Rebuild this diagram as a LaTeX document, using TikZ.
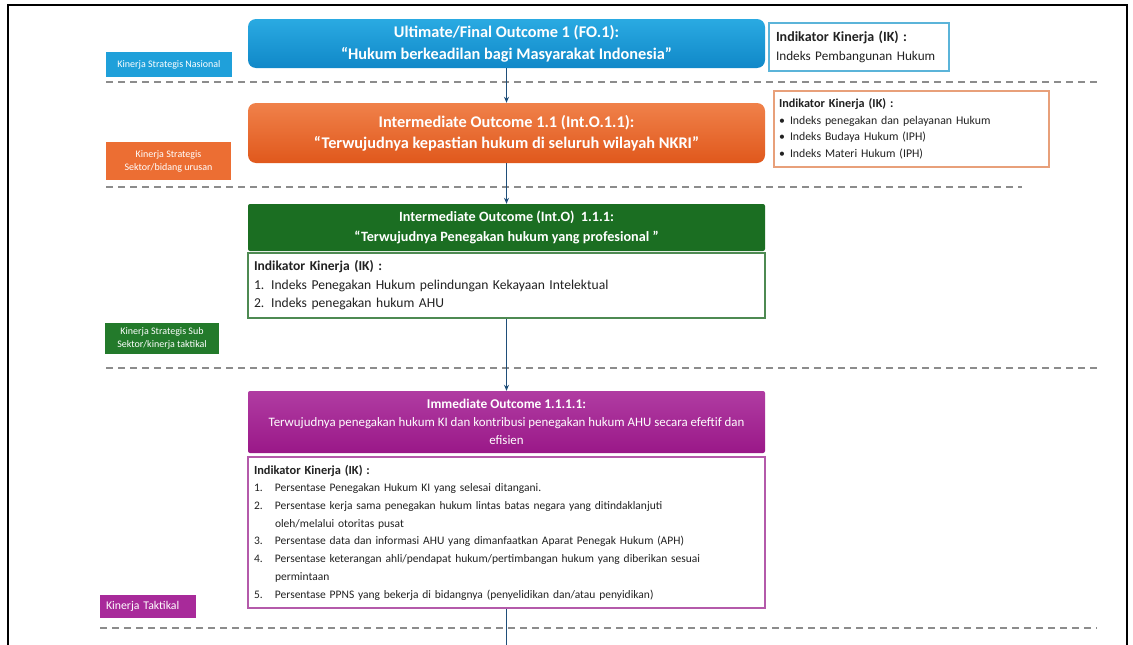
\documentclass[tikz,border=0pt]{standalone}
\usepackage{fontspec}
\setmainfont{Carlito}
\usetikzlibrary{arrows.meta}
\definecolor{bluetop}{HTML}{2AAAE2}
\definecolor{bluebot}{HTML}{1088C8}
\definecolor{orgtop}{HTML}{F0814A}
\definecolor{orgbot}{HTML}{E0581C}
\definecolor{grn}{HTML}{1B6E22}
\definecolor{purtop}{HTML}{B03CA2}
\definecolor{purbot}{HTML}{9A1888}
\definecolor{lblblue}{HTML}{1FA0DA}
\definecolor{lblorg}{HTML}{EC6E33}
\definecolor{lblgrn}{HTML}{237A2B}
\definecolor{lblpur}{HTML}{A82A9A}
\definecolor{ikblue}{HTML}{5BB4D9}
\definecolor{ikorg}{HTML}{E8A07A}
\definecolor{ikgrn}{HTML}{4E8A52}
\definecolor{ikpur}{HTML}{B45AAA}
\definecolor{conn}{HTML}{1F4E79}
\definecolor{dashgray}{HTML}{8C8C8C}
\definecolor{txt}{HTML}{222222}
\begin{document}
\begin{tikzpicture}[x=1pt,y=-1pt,
  hdr/.style={minimum width=517pt, inner sep=0pt, text=white, align=center},
  ikbox/.style={draw, line width=1.3pt, fill=white, inner ysep=0pt, align=left, text=txt},
  lbl/.style={inner sep=0pt, text=white, align=center, font=\fontsize{10}{13}\selectfont},
  sep/.style={dashgray, line width=2pt, dash pattern=on 7pt off 5pt},
  link/.style={conn, line width=1.5pt, -{Stealth[length=6pt,width=5pt]}},
  tail/.style={conn, line width=1.5pt}
]
\fill[white] (0,0) rectangle (1133,645);
\useasboundingbox (0,0) rectangle (1133,645);
% frame
\draw[line width=2pt, black] (8,660) -- (8,5) -- (1127,5) -- (1127,660);

% separators
\draw[sep] (106,82) -- (1097,82);
\draw[sep] (106,187) -- (1022,187);
\draw[sep] (106,368) -- (1097,368);
\draw[sep] (100,628) -- (1097,628);

% level 1
\node[hdr, rounded corners=8pt, top color=bluetop, bottom color=bluebot, minimum height=49pt,
  font=\fontsize{16.3}{22}\selectfont\bfseries] (fo) at (506.5,43.5)
  {Ultimate/Final Outcome 1 (FO.1):\\“Hukum berkeadilan bagi Masyarakat Indonesia”};
\node[lbl, fill=lblblue, minimum width=126pt, minimum height=25pt] (l1) at (169,64.5) {Kinerja Strategis Nasional};
\node[ikbox, draw=ikblue, minimum width=180pt, minimum height=48pt, text width=166pt, inner xsep=7pt,
  font=\fontsize{13.2}{19}\selectfont] (ik1) at (859,47)
  {{\bfseries\fontsize{14}{19}\selectfont Indikator Kinerja (IK) :}\\Indeks Pembangunan Hukum};

% level 2
\node[hdr, rounded corners=8pt, top color=orgtop, bottom color=orgbot, minimum height=60pt,
  font=\fontsize{16.3}{21}\selectfont\bfseries] (io) at (506.5,133)
  {Intermediate Outcome 1.1 (Int.O.1.1):\\“Terwujudnya kepastian hukum di seluruh wilayah NKRI”};
\node[lbl, fill=lblorg, minimum width=125pt, minimum height=38pt] (l2) at (168.5,161)
  {Kinerja Strategis\\Sektor/bidang urusan};
\node[ikbox, draw=ikorg, minimum width=275pt, minimum height=76pt, text width=265pt, inner xsep=5pt,
  font=\fontsize{11.8}{16.5}\selectfont] (ik2) at (911.5,129)
  {{\bfseries\fontsize{12.2}{16.5}\selectfont Indikator Kinerja (IK) :}\\
   \makebox[11pt][l]{\textbullet}Indeks penegakan dan pelayanan Hukum\\
   \makebox[11pt][l]{\textbullet}Indeks Budaya Hukum (IPH)\\
   \makebox[11pt][l]{\textbullet}Indeks Materi Hukum (IPH)};

% level 3
\node[hdr, rounded corners=2pt, fill=grn, minimum height=47pt,
  font=\fontsize{14.2}{20}\selectfont\bfseries] (g) at (506.5,227.5)
  {Intermediate Outcome (Int.O)\ \ 1.1.1:\\“Terwujudnya Penegakan hukum yang profesional ”};
\node[ikbox, draw=ikgrn, minimum width=517pt, minimum height=65pt, text width=505pt, inner xsep=6pt,
  font=\fontsize{13.6}{18.5}\selectfont] (gik) at (506.5,285.5)
  {\textbf{Indikator Kinerja (IK) :}\\
   1. Indeks Penegakan Hukum pelindungan Kekayaan Intelektual\\
   2. Indeks penegakan hukum AHU};
\node[lbl, fill=lblgrn, minimum width=114pt, minimum height=31pt] (l3) at (162,338.5)
  {Kinerja Strategis Sub\\Sektor/kinerja taktikal};

% level 4
\node[hdr, rounded corners=2pt, top color=purtop, bottom color=purbot, minimum height=62pt,
  font=\fontsize{12.9}{18}\selectfont] (p) at (506.5,422)
  {{\bfseries\fontsize{13.4}{18}\selectfont Immediate Outcome 1.1.1.1:}\\
   Terwujudnya penegakan hukum KI dan kontribusi penegakan hukum AHU secara efeftif dan\\efisien};
\node[ikbox, draw=ikpur, minimum width=517pt, minimum height=151pt, text width=505pt, inner xsep=6pt,
  font=\fontsize{11.5}{17.7}\selectfont] (pik) at (506.5,532.5)
  {{\bfseries\fontsize{12.4}{17.7}\selectfont Indikator Kinerja (IK) :}\\
   \makebox[21pt][l]{1.}Persentase Penegakan Hukum KI yang selesai ditangani.\\
   \makebox[21pt][l]{2.}Persentase kerja sama penegakan hukum lintas batas negara yang ditindaklanjuti\\
   \hspace*{21pt}oleh/melalui otoritas pusat\\
   \makebox[21pt][l]{3.}Persentase data dan informasi AHU yang dimanfaatkan Aparat Penegak Hukum (APH)\\
   \makebox[21pt][l]{4.}Persentase keterangan ahli/pendapat hukum/pertimbangan hukum yang diberikan sesuai\\
   \hspace*{21pt}permintaan\\
   \makebox[21pt][l]{5.}Persentase PPNS yang bekerja di bidangnya (penyelidikan dan/atau penyidikan)};
\node[lbl, fill=lblpur, minimum width=95pt, minimum height=23pt, text width=84pt, inner xsep=6pt, align=left,
  font=\fontsize{11.8}{13}\selectfont] (l4) at (148,606.5) {Kinerja Taktikal};

% connectors
\coordinate (end) at (506.5,660);
\draw[link] (fo.south) -- (io.north);
\draw[link] (io.south) -- (g.north);
\draw[link] (gik.south) -- (p.north);
\draw[tail] (pik.south) -- (end);
\end{tikzpicture}
\end{document}
